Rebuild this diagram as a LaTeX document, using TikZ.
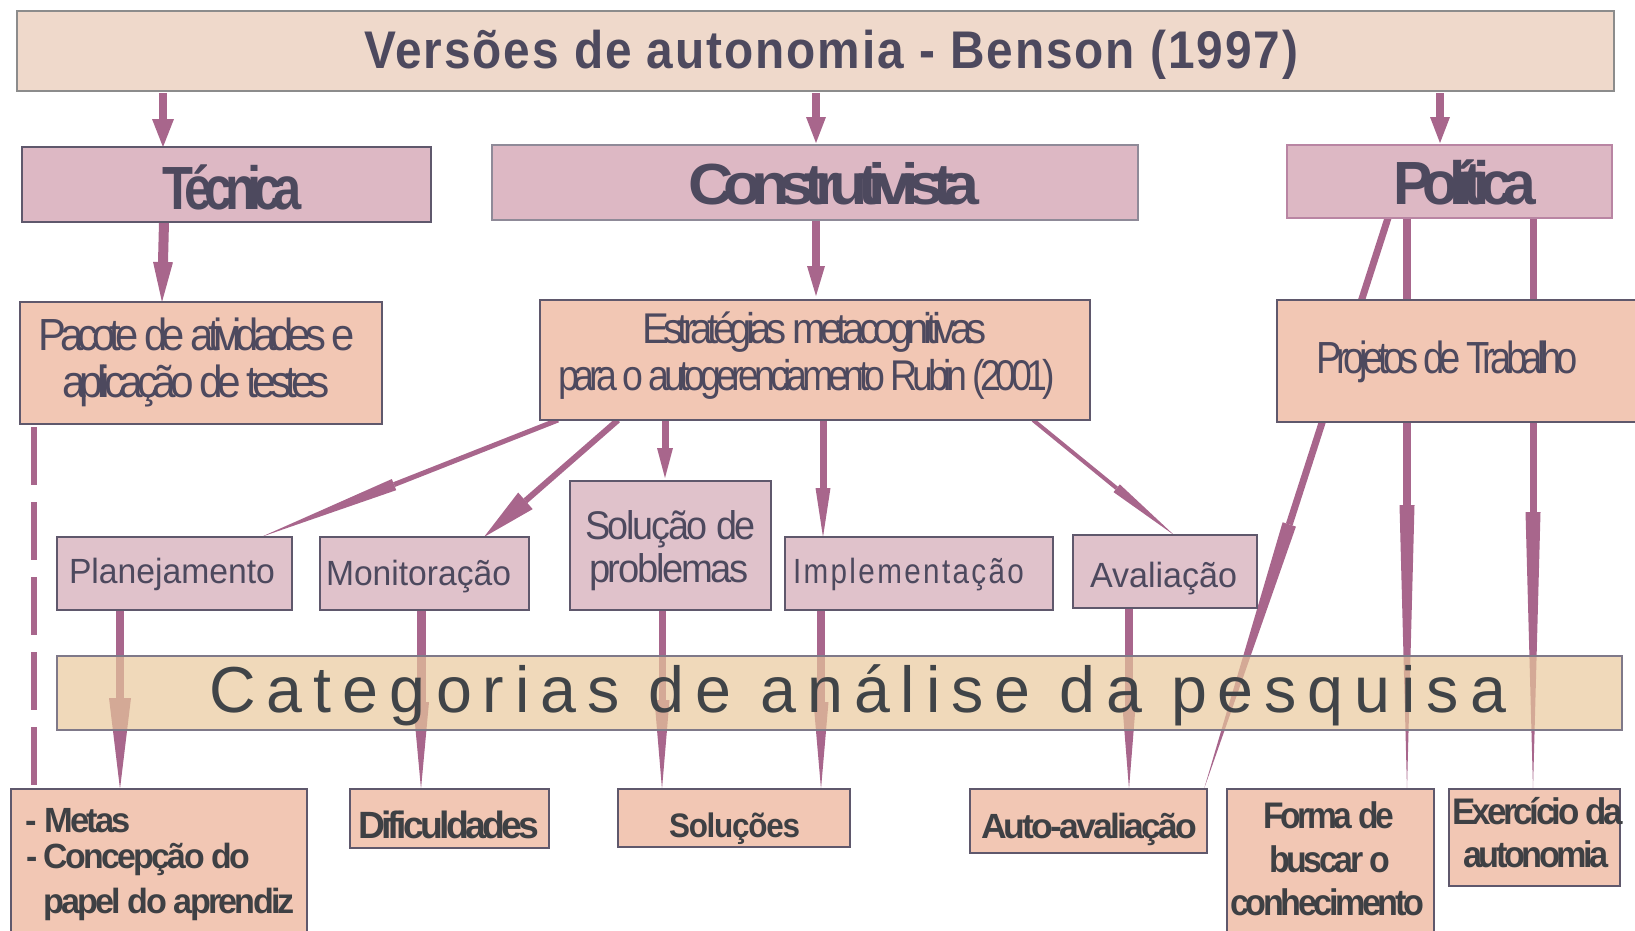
\documentclass[tikz,border=0pt]{standalone}
\usepackage{fontspec}
\setmainfont{Liberation Sans}
\usetikzlibrary{arrows.meta,backgrounds}
\definecolor{titlefill}{RGB}{239,217,203}
\definecolor{catfill}{RGB}{221,184,196}
\definecolor{peach}{RGB}{242,199,180}
\definecolor{rowfill}{RGB}{224,194,203}
\definecolor{bandfill}{RGB}{233,200,155}
\definecolor{arrowc}{RGB}{168,102,140}
\definecolor{txtc}{RGB}{77,73,94}
\definecolor{darktxt}{RGB}{62,64,68}
\definecolor{bandtxt}{RGB}{64,68,72}
\definecolor{edgec}{RGB}{95,88,108}
\newcommand\fitt[3]{\resizebox{#1pt}{\height}{\addfontfeatures{LetterSpace=#2}#3}}
\tikzset{
  box/.style={draw=edgec, line width=1.2pt, inner sep=0pt, outer sep=0pt, anchor=north west},
  lbl/.style={anchor=base west, inner sep=0pt, outer sep=0pt, text=txtc},
  dlbl/.style={anchor=base west, inner sep=0pt, outer sep=0pt, text=darktxt},
  conn/.style n args={3}{draw=arrowc, line width=#1pt, -{Triangle[length=#2pt,width=#3pt,line width=0pt]}},
  fs/.style={font=\fontsize{#1}{#1}\selectfont},
  fsb/.style={font=\fontsize{#1}{#1}\selectfont\bfseries},
}
\begin{document}
\begin{tikzpicture}[x=1pt,y=-1pt]
\useasboundingbox (0,0) rectangle (1635,930);
\clip (0,0) rectangle (1635,930);
% boxes
\node[box, fill=titlefill, draw=black!45, minimum width=1597pt, minimum height=80pt] (title) at (17,11) {};
\node[box, fill=catfill, minimum width=409pt, minimum height=75pt] (tec) at (22,147) {};
\node[box, fill=catfill, draw=edgec!70, minimum width=646pt, minimum height=75pt] (con) at (492,145) {};
\node[box, fill=catfill, draw=arrowc!80, minimum width=325pt, minimum height=73pt] (pol) at (1287,145) {};
\node[box, fill=peach, minimum width=362pt, minimum height=122pt] (pac) at (20,302) {};
\node[box, fill=peach, minimum width=550pt, minimum height=120pt] (est) at (540,300) {};
\node[box, fill=peach, minimum width=363pt, minimum height=122pt] (proj) at (1277,300) {};
\node[box, fill=rowfill, minimum width=235pt, minimum height=73pt] (plan) at (57,537) {};
\node[box, fill=rowfill, minimum width=209pt, minimum height=73pt] (mon) at (320,537) {};
\node[box, fill=rowfill, minimum width=201pt, minimum height=129pt] (sol) at (570,481) {};
\node[box, fill=rowfill, minimum width=268pt, minimum height=73pt] (imp) at (785,537) {};
\node[box, fill=rowfill, minimum width=184pt, minimum height=73pt] (ava) at (1073,535) {};
\node[box, fill=peach, minimum width=296pt, minimum height=160pt] (metas) at (11,789) {};
\node[box, fill=peach, minimum width=199pt, minimum height=59pt] (dif) at (350,789) {};
\node[box, fill=peach, minimum width=232pt, minimum height=58pt] (solu) at (618,789) {};
\node[box, fill=peach, minimum width=237pt, minimum height=64pt] (auto) at (970,789) {};
\node[box, fill=peach, minimum width=207pt, minimum height=160pt] (forma) at (1227,789) {};
\node[box, fill=peach, minimum width=171pt, minimum height=97pt] (exer) at (1449,789) {};
% connectors (behind boxes)
\begin{scope}[on background layer]
\draw[conn={8}{28}{22}] ([xshift=146pt,yshift=-2pt]title.south west) -- ([xshift=141pt]tec.north west);
\draw[conn={8}{26}{20}] ([xshift=799pt,yshift=-2pt]title.south west) -- ([xshift=324pt,yshift=2pt]con.north west);
\draw[conn={8}{26}{20}] ([xshift=1423pt,yshift=-2pt]title.south west) -- ([xshift=153pt,yshift=2pt]pol.north west);
\draw[conn={10}{40}{20}] ([xshift=142pt]tec.south west) -- ([xshift=142pt]pac.north west);
\draw[conn={8}{30}{18}] ([xshift=324pt]con.south west) -- ([xshift=276pt,yshift=4pt]est.north west);
\draw[conn={5}{143}{12}] ([xshift=18pt]est.south west) -- ([xshift=204pt]plan.north west);
\draw[conn={6}{55}{22}] ([xshift=78pt]est.south west) -- ([xshift=164pt]mon.north west);
\draw[conn={7}{30}{16}] ([xshift=125pt]est.south west) -- ([xshift=95pt,yshift=3pt]sol.north west);
\draw[conn={7}{49}{15}] ([xshift=283pt]est.south west) -- ([xshift=38pt]imp.north west);
\draw[conn={4}{74}{10}] ([xshift=493pt]est.south west) -- ([xshift=101pt]ava.north west);
\draw[conn={8}{91}{22}] ([xshift=63pt]plan.south west) -- ([xshift=109pt]metas.north west);
\draw[conn={9}{87}{16}] ([xshift=101pt]mon.south west) -- ([xshift=71pt]dif.north west);
\draw[conn={7}{89}{15}] ([xshift=92pt]sol.south west) -- ([xshift=44pt]solu.north west);
\draw[conn={8}{87}{15}] ([xshift=36pt]imp.south west) -- ([xshift=203pt]solu.north west);
\draw[conn={8}{82}{13}] ([xshift=56pt]ava.south west) -- ([xshift=159pt]auto.north west);
\draw[conn={7}{278}{14}] ([xshift=101pt]pol.south west) -- ([xshift=234pt]auto.north west);
\draw[conn={8}{284}{15}] ([xshift=120pt]pol.south west) -- ([xshift=180pt]forma.north west);
\draw[conn={7}{277}{15}] ([xshift=246pt]pol.south west) -- ([xshift=84pt]exer.north west);
\draw[draw=arrowc, line width=6.5pt, dash pattern=on 58pt off 17pt, dash phase=-3pt] ([xshift=14pt]pac.south west) -- ([xshift=23pt]metas.north west);
\end{scope}
% translucent band over the connectors
\node[box, fill=bandfill, fill opacity=0.69, draw=edgec!80, minimum width=1565pt, minimum height=74pt] (band) at (57,656) {};
% texts
\node[lbl, fsb=53] (tTitle) at (364,68) {\fitt{934}{4}{Versões de autonomia - Benson (1997)}};
\node[lbl, fsb=61] (tTec) at (162,209) {\fitt{140}{-16}{Técnica}};
\node[lbl, fsb=58] (tCon) at (688,204) {\fitt{291}{-16}{Construtivista}};
\node[lbl, fsb=61] (tPol) at (1393,204) {\fitt{143}{-16}{Política}};
\node[lbl, fs=45] (tPac1) at (38,350) {\fitt{317}{-14}{Pacote de atividades e}};
\node[lbl, fs=45] (tPac2) at (62,397) {\fitt{268}{-14}{aplicação de testes}};
\node[lbl, fs=43] (tEst1) at (642,343) {\fitt{345}{-14}{Estratégias metacognitivas}};
\node[lbl, fs=43] (tEst2) at (558,390) {\fitt{497}{-14}{para o autogerenciamento Rubin (2001)}};
\node[lbl, fs=45] (tProj) at (1316,373) {\fitt{262}{-14}{Projetos de Trabalho}};
\node[lbl, fs=35] (tPlan) at (69,583) {\fitt{206}{0}{Planejamento}};
\node[lbl, fs=35] (tMon) at (326,585) {\fitt{185}{0}{Monitoração}};
\node[lbl, fs=40] (tSol1) at (585,539) {\fitt{171}{-6}{Solução de}};
\node[lbl, fs=40] (tSol2) at (589,582) {\fitt{160}{-6}{problemas}};
\node[lbl, fs=35] (tImp) at (793,583) {\fitt{231}{8}{Implementação}};
\node[lbl, fs=35] (tAva) at (1090,587) {\fitt{147}{0}{Avaliação}};
\node[anchor=base west, inner sep=0pt, text=bandtxt, fs=65] (tBand) at (209,712) {\fitt{1297}{17}{Categorias de análise da pesquisa}};
\node[dlbl, fsb=35] (tMet1) at (26,832) {\fitt{105}{-8}{- Metas}};
\node[dlbl, fsb=35] (tMet2) at (26,868) {\fitt{224}{-8}{- Concepção do}};
\node[dlbl, fsb=35] (tMet3) at (43,913) {\fitt{252}{-8}{papel do aprendiz}};
\node[dlbl, fsb=38] (tDif) at (358,838) {\fitt{181}{-10}{Dificuldades}};
\node[dlbl, fsb=34] (tSolu) at (669,837) {\fitt{131}{-4}{Soluções}};
\node[dlbl, fsb=35] (tAuto) at (981,838) {\fitt{216}{-8}{Auto-avaliação}};
\node[dlbl, fsb=37] (tFor1) at (1263,828) {\fitt{131}{-10}{Forma de}};
\node[dlbl, fsb=37] (tFor2) at (1269,872) {\fitt{121}{-10}{buscar o}};
\node[dlbl, fsb=37] (tFor3) at (1230,915) {\fitt{194}{-10}{conhecimento}};
\node[dlbl, fsb=37] (tExe1) at (1452,824) {\fitt{171}{-10}{Exercício da}};
\node[dlbl, fsb=37] (tExe2) at (1463,867) {\fitt{146}{-10}{autonomia}};
\end{tikzpicture}
\end{document}
